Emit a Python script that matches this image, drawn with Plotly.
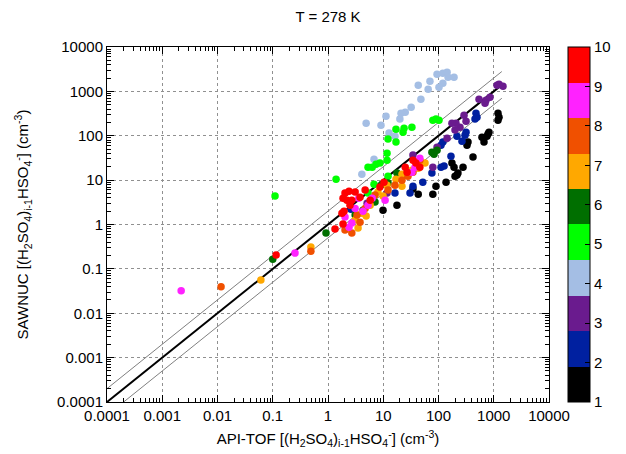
import plotly.graph_objects as go

# ---- data: cluster size i (colour index) -> (API-TOF, SAWNUC) concentrations ----
x_i1 = [1194, 1245, 1194, 820, 787, 755, 612, 666, 342, 328, 421, 175, 191, 278, 216, 225, 199, 137, 90, 79, 43, 34.5, 17.7, 9.9]
y_i1 = [323, 262, 224, 120, 109, 98, 93, 72, 72, 61, 33, 24.2, 19.6, 19.6, 13.0, 14.4, 12.3, 9.0, 7.3, 4.8, 4.8, 6.3, 2.7, 2.1]

x_i2 = [477, 497, 458, 315, 302, 216, 266, 120, 111, 168, 126, 111, 76, 52, 34.5, 30.5, 16.3, 2.6]
y_i2 = [323, 262, 237, 120, 103, 98, 75, 72, 61, 34.7, 20.7, 19.6, 14.4, 9.0, 7.3, 5.1, 5.1, 2.2]

x_i3 = [1245, 1145, 1470, 541, 724, 855, 695, 290, 315, 245, 207, 175, 199, 143, 94, 34.5, 43, 79, 11.7, 5.1]
y_i3 = [1450, 1380, 1310, 667, 634, 740, 542, 291, 213, 156, 192, 192, 134, 88, 55, 36.6, 19.6, 19.6, 5.1, 3.0]

x_i4 = [94, 120, 143, 149, 191, 120, 102, 70, 65, 43, 48, 32, 25, 21, 20, 11.2, 9.1, 4.9, 12.7, 16.3, 6.8, 4.1]
y_i4 = [2440, 2570, 2700, 2090, 2090, 1530, 1240, 1700, 1120, 1380, 667, 440, 340, 323, 237, 276, 173, 192, 115, 98, 29.7, 13.6]

x_i5 = [0.11, 1.40, 79, 90, 102, 17, 23.8, 33, 22.8, 12.2, 17, 11.7, 11.7, 8.7, 6.3, 7.4, 5.3, 6.8, 12.2, 5.3]
y_i5 = [4.4, 10.5, 224, 237, 224, 141, 148, 156, 120, 84, 72, 40.5, 28.2, 24.2, 19.6, 22.9, 19.6, 8.1, 12.3, 5.1]

x_i6 = [0.1, 0.92, 9.5, 12.2, 17.7, 25.8, 76, 83, 94, 4.3, 7.1, 3.1]
y_i6 = [0.164, 0.64, 8.1, 8.6, 14.4, 13.6, 42.7, 38.5, 47.4, 2.1, 3.2, 1.63]

x_i7 = [0.061, 0.49, 4.1, 4.9, 3.5, 5.8, 8.0, 11.7, 17, 21.8, 33, 43, 3.1, 9.9, 21.8, 57]
y_i7 = [0.056, 0.31, 1.8, 1.55, 0.83, 2.7, 5.4, 7.7, 10.5, 13.6, 16.8, 18.6, 1.26, 4.4, 7.3, 24.2]

x_i8 = [0.0116, 0.49, 3.8, 3.35, 4.7, 7.1, 12.2, 16.3, 21.8, 28, 34.5, 2.03, 2.7, 46]
y_i8 = [0.0395, 0.25, 1.13, 1.63, 2.3, 4.6, 6.0, 7.7, 10, 12.3, 15.1, 0.75, 0.64, 28.2]

x_i9 = [0.0022, 0.253, 2.4, 2.7, 3.6, 3.1, 4.3, 5.3, 37.6, 33, 10.8, 6.3, 2.03, 46]
y_i9 = [0.032, 0.227, 0.87, 1.08, 3.9, 2.3, 2.0, 2.7, 19.6, 15.1, 3.5, 3.9, 1.47, 31.3]

x_i10 = [0.115, 1.34, 1.87, 1.95, 1.87, 2.03, 2.4, 3.1, 2.2, 2.7, 2.5, 3.8, 1.79, 4.7, 8.7, 10.3, 25, 27, 39, 46, 5.8, 34.5]
y_i10 = [0.205, 0.79, 1.02, 2.0, 3.9, 5.1, 5.6, 5.4, 3.5, 3.5, 2.7, 4.1, 1.8, 6.0, 7.0, 9.0, 19.6, 15.1, 24.2, 19.6, 3.5, 28.2]

cluster_x = [x_i1, x_i2, x_i3, x_i4, x_i5, x_i6, x_i7, x_i8, x_i9, x_i10]
cluster_y = [y_i1, y_i2, y_i3, y_i4, y_i5, y_i6, y_i7, y_i8, y_i9, y_i10]
cluster_index = [1, 2, 3, 4, 5, 6, 7, 8, 9, 10]

palette = ["#000000", "#0020a0", "#6a1b8e", "#a4bee4", "#00ff00",
           "#006f00", "#ffa800", "#f05000", "#ff22ff", "#ff0000"]

# reference lines: 1:1 and factor-2 band
line_range = [1e-4, 1400]
line_factors = [2.0, 0.5, 1.0]

tick_vals = [1e-4, 1e-3, 1e-2, 1e-1, 1, 10, 100, 1000, 10000]
tick_text = ["0.0001", "0.001", "0.01", "0.1", "1", "10", "100", "1000", "10000"]
minor_mult = [2, 3, 4, 5, 6, 7, 8, 9]
minor_vals = [d * m for d in tick_vals[:-1] for m in minor_mult]
cbar_ticks = [1, 2, 3, 4, 5, 6, 7, 8, 9, 10]

FONT = "Liberation Sans, Arial, sans-serif"

fig = go.Figure()

for f in line_factors:
    thick = f == 1.0
    fig.add_trace(go.Scatter(
        x=line_range, y=[v * f for v in line_range], mode="lines",
        line=dict(color="#000000" if thick else "#808080", width=2 if thick else 1),
        hoverinfo="skip", showlegend=False))

# discrete colour scale 1..10
n = len(palette)
cscale = []
for k, c in enumerate(palette):
    cscale.append([k / n, c])
    cscale.append([(k + 1) / n, c])

all_x, all_y, all_c = [], [], []
for k, xs, ys in zip(cluster_index, cluster_x, cluster_y):
    all_x += xs
    all_y += ys
    all_c += [1 + (k - 0.5) * 0.9] * len(xs)

fig.add_trace(go.Scatter(
    x=all_x, y=all_y, mode="markers",
    marker=dict(size=7.5, color=all_c, colorscale=cscale, cmin=1, cmax=10,
                line=dict(width=0),
                colorbar=dict(
                    x=1.043, xanchor="left", y=0.5, yanchor="middle",
                    len=1, lenmode="fraction", thickness=22,
                    outlinewidth=1, outlinecolor="#000000",
                    tickmode="array", tickvals=cbar_ticks,
                    ticks="inside", ticklen=5, tickcolor="#000000",
                    tickfont=dict(family=FONT, size=15, color="#000000"),
                    xpad=0, ypad=0)),
    showlegend=False))

axis_common = dict(
    type="log", tickmode="array", tickvals=tick_vals, ticktext=tick_text,
    ticks="inside", ticklen=7, tickcolor="#000000", tickwidth=1,
    showline=True, linecolor="#000000", linewidth=1, mirror="allticks",
    showgrid=True, gridcolor="#909090", griddash="dot", gridwidth=1,
    tickfont=dict(family=FONT, size=15, color="#000000"),
    zeroline=False, automargin=False,
)
minor_common = dict(
    type="log", range=[-4, 4], tickmode="array", tickvals=minor_vals,
    ticks="inside", ticklen=4, tickcolor="#000000", tickwidth=1,
    showticklabels=False, showgrid=False, zeroline=False,
    showline=False, mirror="allticks", automargin=False,
)

fig.update_layout(
    xaxis=dict(range=[-4, 4], **axis_common,
               title=dict(text="API-TOF [(H<sub>2</sub>SO<sub>4</sub>)<sub>i-1</sub>HSO<sub>4</sub><sup>-</sup>] (cm<sup>-3</sup>)",
                          font=dict(family=FONT, size=15, color="#000000"), standoff=10)),
    yaxis=dict(range=[-4, 4], **axis_common,
               title=dict(text="SAWNUC [(H<sub>2</sub>SO<sub>4</sub>)<sub>i-1</sub>HSO<sub>4</sub><sup>-</sup>] (cm<sup>-3</sup>)",
                          font=dict(family=FONT, size=15, color="#000000"), standoff=24)),
    xaxis2=dict(overlaying="x", anchor="y", side="bottom", **minor_common),
    yaxis2=dict(overlaying="y", anchor="x", side="left", **minor_common),
)

# invisible carrier so the minor-tick axes are drawn
fig.add_trace(go.Scatter(x=[], y=[], xaxis="x2", yaxis="y2", mode="markers",
                         showlegend=False, hoverinfo="skip"))

fig.update_layout(
    width=626, height=454,
    margin=dict(l=107, r=77, t=47, b=52, autoexpand=False),
    paper_bgcolor="#ffffff", plot_bgcolor="#ffffff",
    title=dict(text="T = 278 K", x=0.5, xref="paper", xanchor="center",
               y=1 - 17 / 454, yanchor="middle",
               font=dict(family=FONT, size=15, color="#000000")),
    showlegend=False,
)

fig.write_html("out.html", config={"displayModeBar": False},
               post_script="document.body.style.margin='0';document.body.style.overflow='hidden';")
